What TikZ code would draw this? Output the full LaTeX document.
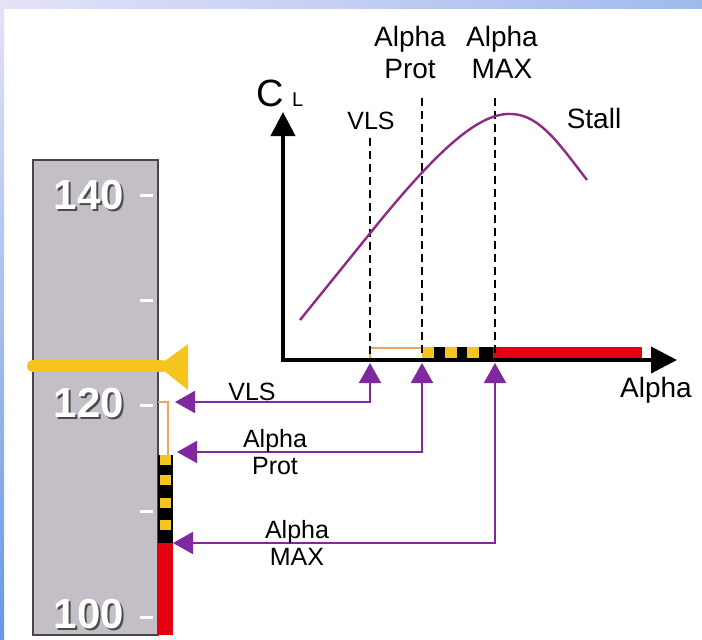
\documentclass[tikz,border=0pt]{standalone}
\usepackage{fontspec}
\setmainfont{Liberation Sans}
\usepackage{xcolor}
\usepackage{tikz}
\usetikzlibrary{positioning,arrows.meta}
\definecolor{tapegray}{RGB}{196,191,198}
\definecolor{tapeedge}{RGB}{70,70,72}
\definecolor{amber}{RGB}{246,196,30}
\definecolor{warnred}{RGB}{228,0,16}
\definecolor{vlsorange}{RGB}{242,166,90}
\definecolor{linkpurple}{RGB}{128,40,160}
\definecolor{curvepurple}{RGB}{142,42,134}
\definecolor{bandlight}{RGB}{228,226,248}
\definecolor{bandblue}{RGB}{160,186,238}
\definecolor{edgeblue}{RGB}{104,152,228}

\begin{document}
\begin{tikzpicture}[
  x=0.5pt, y=-0.5pt,
  every node/.style={inner sep=0pt, align=center},
  axis/.style={line width=2pt, line join=miter, {Triangle[length=12pt,width=12pt]}-{Triangle[length=13pt,width=13pt]}},
  guide/.style={dashed, line width=1.2pt, dash pattern=on 4pt off 2.5pt},
  link/.style={line width=1pt, color=linkpurple, {Triangle[length=10pt,width=11pt]}-{Triangle[length=10pt,width=11pt]}},
  lbl/.style={font=\fontsize{14}{16}\selectfont},
  smalllbl/.style={font=\fontsize{12.5}{13.5}\selectfont},
  tapenum/.style={font=\fontsize{21}{21}\selectfont\bfseries, text=white},
  tapeshadow/.style={font=\fontsize{21}{21}\selectfont\bfseries, text=black!70},
  tick/.style={line width=1.5pt, white}
]
  \useasboundingbox (0,0) rectangle (702,639);
  % frame
  \shade[top color=bandlight, bottom color=edgeblue] (0,0) rectangle (4,639);
  \shade[left color=bandlight, right color=bandblue] (0,0) rectangle (702,8);

  % speed tape
  \fill[tapegray] (33,160) rectangle (158,635);
  \draw[tapeedge, line width=1pt] (33,160) rectangle (158,635);
  \foreach \y in {195,300,405,511,617} \draw[tick] (140,\y) -- (153,\y);
  \foreach \v/\y in {140/195,120/403,100/614} {
    \node[tapeshadow] (s\v) at (91,\y+2) {\v};
    \node[tapenum] (n\v) at (89,\y) {\v};
  }

  % protection strip on the tape
  \fill[warnred] (158,543) rectangle (173,635);
  \fill[black] (158,455) rectangle (173,543);
  \foreach \y in {455,475,498,520} \fill[amber] (160,\y) rectangle (171,\y+10);
  \draw[vlsorange, line width=1pt] (158,402) -- (168,402) -- (168,455);

  % speed pointer
  \draw[amber, line width=6pt, line cap=round] (33,366) -- (162,366);
  \fill[amber] (158,366) -- (188,344) -- (188,390) -- cycle;

  % CL / alpha graph
  \coordinate (origin) at (283,360);
  \coordinate (cltip) at (283,112);
  \coordinate (alphatip) at (677,360);
  \draw[vlsorange, line width=1pt] (370,358) -- (370,348) -- (422,348);
  \fill[black] (422,347) rectangle (493,359);
  \foreach \x in {422,445,467} \fill[amber] (\x,347) rectangle (\x+12,358);
  \fill[warnred] (493,347) rectangle (642,359);
  \draw[axis] (cltip) -- (origin) -- (alphatip);

  \coordinate (vlsG)  at (370,138);
  \coordinate (protG) at (422,98);
  \coordinate (maxG)  at (495,98);
  \coordinate (vlsA)  at (370,360);
  \coordinate (protA) at (422,360);
  \coordinate (maxA)  at (495,360);
  \draw[guide] (vlsG) -- (vlsA);
  \draw[guide] (protG) -- (protA);
  \draw[guide] (maxG) -- (maxA);

  \draw[curvepurple, line width=1.2pt] (300,320) -- (380,221)
    .. controls (440,148) and (480,112) .. (512,114)
    .. controls (540,115) and (560,145) .. (587,180);

  \node[lbl] (protlbl) at (410,52) {Alpha\\Prot};
  \node[lbl] (maxlbl) at (502,52) {Alpha\\MAX};
  \node[smalllbl] (vlslbl) at (371,121) {VLS};
  \node[lbl] (stall) at (594,118) {Stall};
  \node[lbl] (alpha) at (656,390) {Alpha};
  \node (cl) at (280,93) {\fontsize{19}{19}\selectfont C\hspace{4pt}\fontsize{10}{10}\selectfont L};

  % links from the graph to the tape
  \coordinate (vlsB)  at (370,363);
  \coordinate (protB) at (422,363);
  \coordinate (maxB)  at (495,363);
  \coordinate (vlsT)  at (175,402);
  \coordinate (protT) at (177,452);
  \coordinate (maxT)  at (173,543);
  \draw[link] (vlsB) |- (vlsT);
  \draw[link] (protB) |- (protT);
  \draw[link] (maxB) |- (maxT);

  \node[smalllbl] (vlsnote) at (252,392) {VLS};
  \node[smalllbl] (protnote) at (275,452) {Alpha\\Prot};
  \node[smalllbl] (maxnote) at (297,543) {Alpha\\MAX};
\end{tikzpicture}
\end{document}
